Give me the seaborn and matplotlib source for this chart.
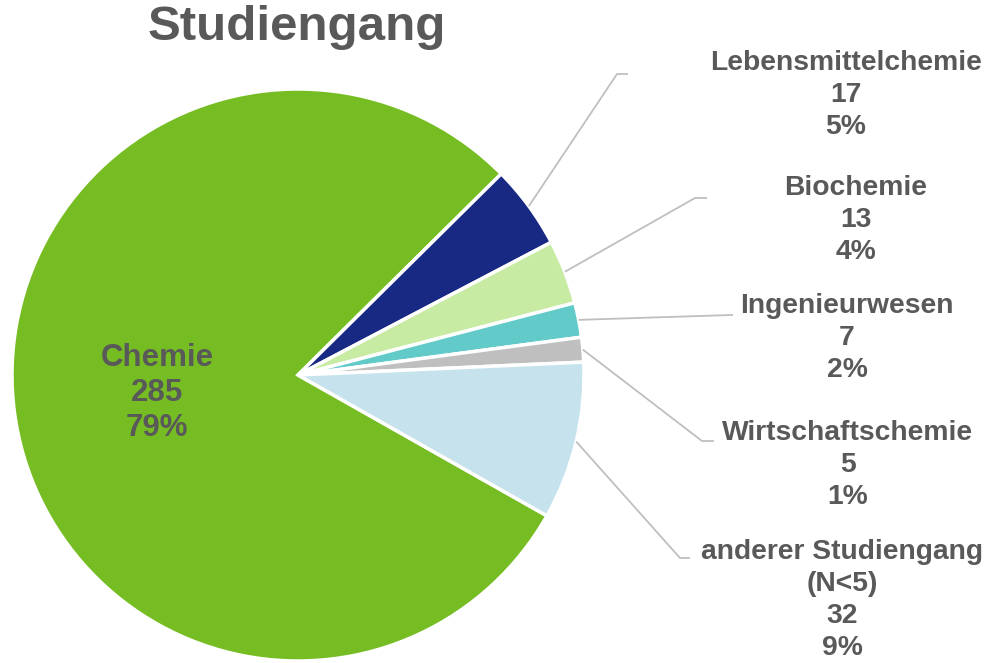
import matplotlib
matplotlib.use("Agg")

import numpy as np
import matplotlib.pyplot as plt
import seaborn as sns

CATEGORIES = ["Chemie", "Lebensmittelchemie", "Biochemie", "Ingenieurwesen",
              "Wirtschaftschemie", "anderer Studiengang\n(N<5)"]
COUNTS = [285, 17, 13, 7, 5, 32]
PERCENTS = ["79%", "5%", "4%", "2%", "1%", "9%"]
COLORS = ["#76BD23", "#172983", "#C8EBA3", "#63CACA", "#BFBFBF", "#C6E3ED"]

TEXT_COLOR = "#595959"
LINE_COLOR = "#BFBFBF"

# label placement in pixel coords (x, y from top), elbow of the leader line
LABEL_POS = [(157, 393), (846, 95), (856, 220), (847, 338), (848, 465), (842, 600)]
ELBOWS = [None, ((617, 74), (628, 74)), ((695, 198), (707, 198)),
          ((731, 315), (733, 315)), ((702, 441), (714, 441)), ((680, 558), (690, 558))]

W, H = 1000, 663
CENTER = (298, H - 375)
RADIUS = 286


def main() -> None:
    sns.set_theme(style="white")
    plt.rcParams["font.family"] = ["Liberation Sans", "DejaVu Sans"]

    fig = plt.figure(figsize=(10, 6.63), dpi=100)
    ax = fig.add_axes([0, 0, 1, 1])

    wedges, _ = ax.pie(COUNTS, colors=COLORS, startangle=-29.5, counterclock=False,
                       center=CENTER, radius=RADIUS,
                       wedgeprops=dict(edgecolor="white", linewidth=2.5))
    ax.set_xlim(0, W)
    ax.set_ylim(0, H)
    ax.set_aspect("equal")
    ax.axis("off")

    for i, (wedge, cat, n, pct) in enumerate(zip(wedges, CATEGORIES, COUNTS, PERCENTS)):
        lx, ly = LABEL_POS[i]
        label = f"{cat}\n{n}\n{pct}"
        size, spacing = (22.5, 1.23) if i == 0 else (20.3, 1.3)
        ax.text(lx, H - ly, label, ha="center", va="center", fontsize=size,
                fontweight="bold", color=TEXT_COLOR, linespacing=spacing)
        if ELBOWS[i] is None:
            continue
        mid = np.deg2rad((wedge.theta1 + wedge.theta2) / 2)
        sx = CENTER[0] + RADIUS * np.cos(mid)
        sy = CENTER[1] + RADIUS * np.sin(mid)
        (ex, ey), (hx, hy) = ELBOWS[i]
        ax.plot([sx, ex, hx], [sy, H - ey, H - hy], color=LINE_COLOR, linewidth=1.3,
                solid_capstyle="butt")

    ax.text(297, H - 27, "Studiengang", ha="center", va="center", fontsize=35.5,
            fontweight="bold", color=TEXT_COLOR)

    fig.savefig("out.png", dpi=100)
    plt.close("all")


if __name__ == "__main__":
    main()
